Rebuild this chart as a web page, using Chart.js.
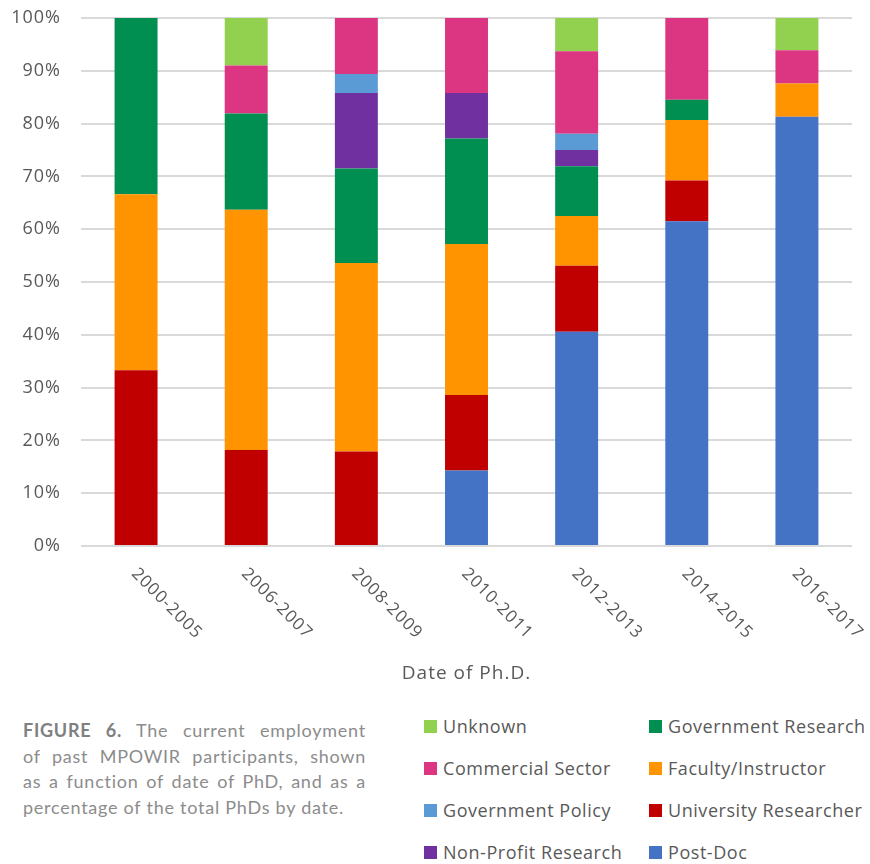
<!DOCTYPE html>
<html>
<head>
<meta charset="utf-8">
<script src="https://cdn.jsdelivr.net/npm/chart.js@4"></script>
<style>
  body { margin: 0; background: #fff; overflow: hidden; }
  #page { position: relative; width: 870px; height: 864px; overflow: hidden; }
  #chartBox { position: absolute; left: 0; top: 0; width: 870px; height: 700px; }
  #caption { position: absolute; left: 23px; top: 718px; width: 343px;
    font-family: Lato, sans-serif; font-size: 18px; line-height: 25.5px; color: #8c8c8c; letter-spacing: 0.75px; }
  #caption div { text-align: justify; text-align-last: justify; white-space: nowrap; }
  #caption div.last { text-align-last: left; }
  #caption b { color: #808080; }
  #legend { position: absolute; left: 424px; top: 705px; display: grid;
    grid-auto-flow: column; grid-template-rows: repeat(4, 42px); grid-template-columns: 225px 240px;
    font-family: "Open Sans", sans-serif; font-size: 18px; color: #595959; letter-spacing: 0.55px; }
  .item { display: flex; align-items: center; white-space: nowrap; }
  .swatch { width: 13px; height: 13px; margin-right: 6px; flex: none; }
</style>
</head>
<body>
<div id="page">
  <div id="chartBox"><canvas id="employ" width="870" height="700"></canvas></div>
  <div id="caption">
    <div><b>FIGURE 6.</b> The current employment</div>
    <div>of past MPOWIR participants, shown</div>
    <div>as a function of date of PhD, and as a</div>
    <div class="last">percentage of the total PhDs by date.</div>
  </div>
  <div id="legend"></div>
</div>
<script>
// categories
var labels = ['2000-2005', '2006-2007', '2008-2009', '2010-2011', '2012-2013', '2014-2015', '2016-2017'];

// percent of PhDs in each group
var postDoc       = [0,    0,    0,    14.3, 40.6, 61.5, 81.3];
var univResearch  = [33.3, 18.2, 17.9, 14.3, 12.5, 7.7,  0];
var faculty       = [33.3, 45.5, 35.7, 28.6, 9.4,  11.5, 6.3];
var govResearch   = [33.4, 18.2, 17.9, 20.0, 9.4,  3.8,  0];
var nonProfit     = [0,    0,    14.3, 8.6,  3.1,  0,    0];
var govPolicy     = [0,    0,    3.6,  0,    3.1,  0,    0];
var commercial    = [0,    9.1,  10.7, 14.3, 15.6, 15.5, 6.3];
var unknown       = [0,    9.1,  0,    0,    6.3,  0,    6.3];

var yTicks = [0, 10, 20, 30, 40, 50, 60, 70, 80, 90, 100];

var datasets = [
    { label: 'Post-Doc', data: postDoc, backgroundColor: '#4472C4' },
    { label: 'University Researcher', data: univResearch, backgroundColor: '#C00000' },
    { label: 'Faculty/Instructor', data: faculty, backgroundColor: '#FF9300' },
    { label: 'Government Research', data: govResearch, backgroundColor: '#008F50' },
    { label: 'Non-Profit Research', data: nonProfit, backgroundColor: '#7030A0' },
    { label: 'Government Policy', data: govPolicy, backgroundColor: '#5B9BD5' },
    { label: 'Commercial Sector', data: commercial, backgroundColor: '#DC3581' },
    { label: 'Unknown', data: unknown, backgroundColor: '#92D050' }
];
datasets.forEach(function(d){
    d.barPercentage = 0.39;
    d.categoryPercentage = 1;
    d.borderWidth = 0;
});

// a bit of letter spacing on the axis text, closer to the original look
var spacing = {
    id: 'spacing',
    beforeDraw: function(chart){ try { chart.ctx.letterSpacing = '1px'; } catch(e) {} }
};

// rotated x labels, going down to the right like the original
var slantLabels = {
    id: 'slantLabels',
    afterDraw: function(chart){
        var ctx = chart.ctx;
        var xs = chart.scales.x;
        ctx.save();
        ctx.font = '17px "Open Sans"';
        ctx.fillStyle = '#595959';
        ctx.textAlign = 'left';
        ctx.textBaseline = 'middle';
        try { ctx.letterSpacing = '1px'; } catch(e) {}
        labels.forEach(function(lab, i){
            var x = xs.getPixelForValue(i);
            ctx.save();
            ctx.translate(x - 2, xs.top + 25);
            ctx.rotate(Math.PI / 4);
            ctx.fillText(lab, 0, 0);
            ctx.restore();
        });
        ctx.restore();
    }
};

var chart = new Chart(document.getElementById('employ'), {
    type: 'bar',
    data: { labels: labels, datasets: datasets },
    plugins: [spacing, slantLabels],
    options: {
        responsive: false,
        animation: false,
        layout: { padding: { top: 18, right: 18, left: 0, bottom: 0 } },
        plugins: { legend: { display: false }, tooltip: { enabled: false } },
        scales: {
            x: {
                stacked: true,
                grid: { display: false },
                border: { display: false },
                ticks: { display: false },
                title: {
                    display: true, text: 'Date of Ph.D.', color: '#595959',
                    font: { family: '"Open Sans"', size: 19 }, padding: { top: 0, bottom: 15 }
                },
                afterFit: function(scale){ scale.height = 154; }
            },
            y: {
                stacked: true,
                min: 0, max: 100,
                grid: { color: '#d9d9d9', lineWidth: 2, drawTicks: false },
                border: { display: false },
                afterBuildTicks: function(scale){ scale.ticks = yTicks.map(function(v){ return { value: v }; }); },
                ticks: {
                    padding: 20, color: '#595959',
                    font: { family: '"Open Sans"', size: 18 },
                    callback: function(v){ return v + '%'; }
                },
                afterFit: function(scale){
                    scale.width = 81;
                    scale.paddingTop = 0;
                    scale.paddingBottom = 0;
                }
            }
        }
    }
});

// legend: column-major, top of the stack first
var leg = document.getElementById('legend');
datasets.slice().reverse().forEach(function(d){
    var item = document.createElement('div');
    item.className = 'item';
    item.innerHTML = '<span class="swatch" style="background:' + d.backgroundColor + '"></span>' + d.label;
    leg.appendChild(item);
});
</script>
</body>
</html>
